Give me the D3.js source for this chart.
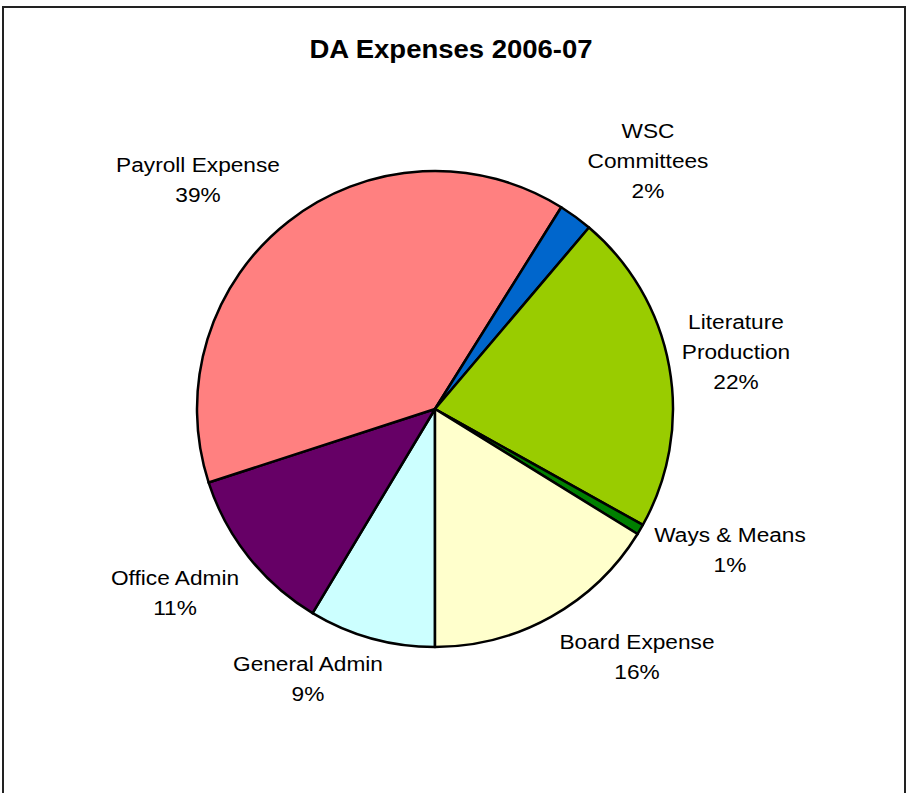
<!DOCTYPE html>
<html><head><meta charset="utf-8">
<script src="https://cdn.jsdelivr.net/npm/d3@7"></script>
<style>html,body{margin:0;padding:0;background:#fff;}svg{display:block;}</style>
</head><body>
<script>
// Data (clockwise starting at 6 o'clock)
const categories = ["General Admin","Office Admin","Payroll Expense","WSC Committees","Literature Production","Ways & Means","Board Expense"];
const values = [8.6, 11.4, 38.9, 2.3, 21.9, 0.7, 16.2];
const percentLabels = ["9%","11%","39%","2%","22%","1%","16%"];
const labelLines = [["General Admin"],["Office Admin"],["Payroll Expense"],["WSC","Committees"],["Literature","Production"],["Ways & Means"],["Board Expense"]];
const colors = ["#CCFFFF","#660066","#FF8080","#0066CC","#99CC00","#008000","#FFFFCC"];
const labelPos = [[308,663],[175,577],[198,164],[648,130],[736,321],[730,534],[637,641]];

const W = 909, H = 793;
const svg = d3.select("body").append("svg").attr("width", W).attr("height", H);
svg.append("rect").attr("x",3).attr("y",7).attr("width",902).attr("height",800)
  .attr("fill","#fff").attr("stroke","#222").attr("stroke-width",2);

svg.append("text").attr("transform","translate(451,58) scale(1.1,1)").attr("text-anchor","middle")
  .attr("font-family","Liberation Sans, Arial, sans-serif").attr("font-weight","bold")
  .attr("font-size",25).text("DA Expenses 2006-07");

const cx = 435, cy = 409, r = 238;
const pie = d3.pie().sort(null).startAngle(Math.PI).endAngle(3*Math.PI);
const arcs = pie(values);
const arc = d3.arc().innerRadius(0).outerRadius(r);
const g = svg.append("g").attr("transform",`translate(${cx},${cy})`);
g.selectAll("path").data(arcs).join("path")
  .attr("d",arc).attr("fill",(d,i)=>colors[i])
  .attr("stroke","#000").attr("stroke-width",2.5).attr("stroke-linejoin","round");

const lab = svg.append("g").attr("font-family","Liberation Sans, Arial, sans-serif").attr("font-size",21).attr("fill","#000");
categories.forEach((c,i)=>{
  const lines = labelLines[i].concat([percentLabels[i]]);
  const [x,y] = labelPos[i];
  lines.forEach((t,j)=>{
    lab.append("text").attr("transform",`translate(${x},${y + j*30 + 7.5}) scale(1.08,1)`)
      .attr("text-anchor","middle").text(t);
  });
});
</script>
</body></html>
